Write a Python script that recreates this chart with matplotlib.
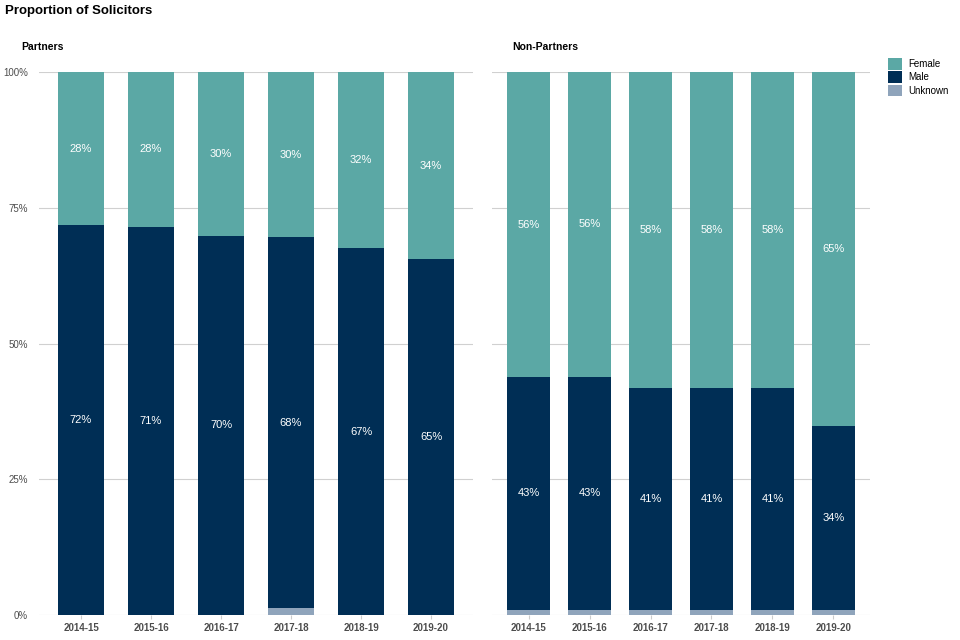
import matplotlib.pyplot as plt
from matplotlib.patches import Patch
import numpy as np

plt.rcParams['font.family'] = ['Liberation Sans', 'DejaVu Sans']

years = ['2014-15', '2015-16', '2016-17', '2017-18', '2018-19', '2019-20']

# Partners (shares of total)
partners_female = [0.282, 0.2849, 0.302, 0.304, 0.3249, 0.3449]
partners_male = [0.718, 0.7149, 0.698, 0.684, 0.6749, 0.6549]
partners_unknown = [0.000, 0.0002, 0.000, 0.012, 0.0002, 0.0002]

# Non-partners (shares of total)
nonpartners_female = [0.562, 0.561, 0.582, 0.582, 0.582, 0.652]
nonpartners_male = [0.428, 0.429, 0.408, 0.408, 0.408, 0.338]
nonpartners_unknown = [0.010, 0.010, 0.010, 0.010, 0.010, 0.010]

colors = {'Female': '#5ba8a5', 'Male': '#002e55', 'Unknown': '#8fa4bb'}

fig = plt.figure(figsize=(9.6, 6.4), dpi=100)
bottom = 1 - 615 / 640
height = (615 - 72) / 640
ax1 = fig.add_axes([39 / 960, bottom, 434 / 960, height])
ax2 = fig.add_axes([492 / 960, bottom, 378 / 960, height])


def draw_panel(ax, female, male, unknown, width, title, title_x, show_y):
    x = np.arange(1, len(years) + 1)
    unknown = np.array(unknown)
    male = np.array(male)
    female = np.array(female)
    ax.bar(x, unknown, width, color=colors['Unknown'], zorder=2)
    ax.bar(x, male, width, bottom=unknown, color=colors['Male'], zorder=2)
    ax.bar(x, female, width, bottom=unknown + male, color=colors['Female'], zorder=2)

    # Labels at segment midpoints
    for xi, u, m, f in zip(x, unknown, male, female):
        for val, base in ((m, u), (f, u + m)):
            if val > 0.05:
                ax.text(xi, base + val / 2, f'{round(val * 100)}%', ha='center', va='center',
                        color='white', fontsize=8, zorder=3)

    ax.set_xlim(0.4, len(years) + 0.6)
    ax.set_ylim(0, 1)
    ax.set_xticks(x)
    ax.set_xticklabels(years, fontsize=7, fontweight='bold', color='#4d4d4d')
    ax.set_yticks([0, 0.25, 0.5, 0.75, 1.0])
    if show_y:
        ax.set_yticklabels(['0%', '25%', '50%', '75%', '100%'], fontsize=7, color='#4d4d4d')
    else:
        ax.set_yticklabels([])
    ax.tick_params(axis='y', length=0, pad=8)
    ax.tick_params(axis='x', length=3, color='#cccccc', pad=3)
    ax.grid(axis='y', color='#d0d0d0', linewidth=0.8, zorder=0)
    for s in ax.spines.values():
        s.set_visible(False)
    ax.text(title_x, 1.037, title, transform=ax.transAxes,
            fontsize=7.5, fontweight='bold', ha='left', va='bottom')


draw_panel(ax1, partners_female, partners_male, partners_unknown, 0.66, 'Partners', -18 / 434, True)
draw_panel(ax2, nonpartners_female, nonpartners_male, nonpartners_unknown, 0.7, 'Non-Partners', 20 / 378, False)

fig.text(5 / 960, 1 - 11 / 640, 'Proportion of Solicitors', fontsize=9.5, fontweight='bold',
         ha='left', va='center')

handles = [Patch(facecolor=colors[k], edgecolor='none', label=k) for k in ['Female', 'Male', 'Unknown']]
fig.legend(handles=handles, loc='upper left', bbox_to_anchor=(884 / 960, 1 - 54 / 640),
           frameon=False, fontsize=7, handlelength=1.5, handleheight=1.5,
           handletextpad=0.6, labelspacing=0.15, borderaxespad=0)

fig.savefig('out.png', dpi=100)
